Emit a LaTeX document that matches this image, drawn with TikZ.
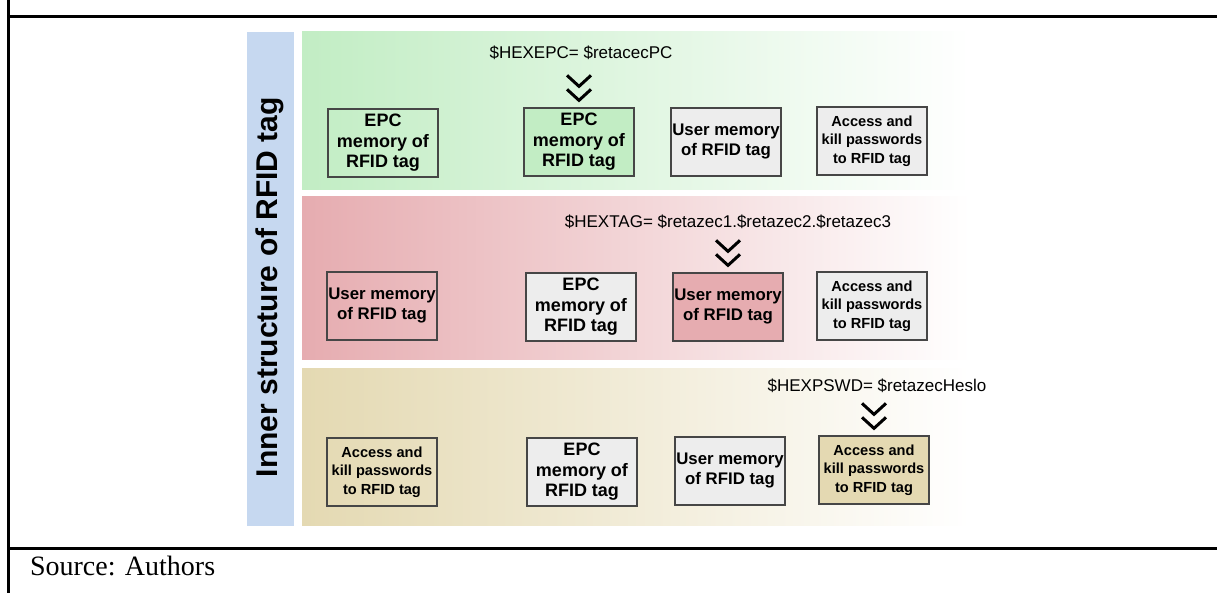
\documentclass[tikz,border=0pt]{standalone}
\usepackage{fontspec}
\setmainfont{Liberation Serif}
\setsansfont{Liberation Sans}
\usetikzlibrary{calc}

\definecolor{barblue}{RGB}{198,216,240}
\definecolor{epcgreen}{RGB}{194,237,196}
\definecolor{tagred}{RGB}{230,172,176}
\definecolor{pswdtan}{RGB}{228,217,178}
\definecolor{memgray}{RGB}{237,237,237}
\definecolor{boxline}{RGB}{70,70,70}

\tikzset{
  frame/.style={line width=1.5pt, black},
  mem/.style={draw=boxline, line width=0.65pt, minimum width=55pt, minimum height=34pt, inner sep=0pt, align=center},
  epcmem/.style={mem, font=\sffamily\bfseries\fontsize{9}{10.3}\selectfont},
  usermem/.style={mem, font=\sffamily\bfseries\fontsize{8.4}{10}\selectfont},
  pswdmem/.style={mem, font=\sffamily\bfseries\fontsize{7.3}{9.2}\selectfont},
  hexlabel/.style={font=\sffamily\fontsize{8.5}{10}\selectfont},
  chevron/.style={line width=1.5pt, black}
}

\begin{document}
\begin{tikzpicture}[x=0.5pt,y=-0.5pt]
\useasboundingbox (0,0) rectangle (1217,593);

% table frame
\draw[frame] (8.5,0) -- (8.5,593);
\draw[frame] (8.5,17) -- (1217,17);
\draw[frame] (8.5,548) -- (1217,548);
\node[anchor=base west, font=\fontsize{14}{17}\selectfont] (src) at (23,575) {Source: Authors};

% side bar and bands
\fill[barblue] (247,32) rectangle (294,526);
\node[rotate=90, font=\sffamily\bfseries\fontsize{15}{18}\selectfont] (title) at (270,287) {Inner structure of RFID tag};
\shade[left color=epcgreen, right color=white] (302,32) rectangle (970,190);
\shade[left color=tagred, right color=white] (302,197) rectangle (970,360);
\shade[left color=pswdtan, right color=white] (302,369) rectangle (970,526);

% row 1
\node[epcmem] (e1) at (383,143) {EPC\\memory of\\RFID tag};
\node[epcmem, fill=epcgreen] (e2) at (579,142) {EPC\\memory of\\RFID tag};
\node[usermem, fill=memgray] (e3) at (726,142) {User memory\\of RFID tag};
\node[pswdmem, fill=memgray] (e4) at (872,141) {Access and\\kill passwords\\to RFID tag};
\node[hexlabel] (hexepc) at (581,53) {\$HEXEPC= \$retacecPC};

% row 2
\node[usermem] (t1) at (382,306) {User memory\\of RFID tag};
\node[epcmem, fill=memgray] (t2) at (581,307) {EPC\\memory of\\RFID tag};
\node[usermem, fill=tagred] (t3) at (728,307) {User memory\\of RFID tag};
\node[pswdmem, fill=memgray] (t4) at (872,306) {Access and\\kill passwords\\to RFID tag};
\node[hexlabel] (hextag) at (728,222) {\$HEXTAG= \$retazec1.\$retazec2.\$retazec3};

% row 3
\node[pswdmem] (p1) at (382,472) {Access and\\kill passwords\\to RFID tag};
\node[epcmem, fill=memgray] (p2) at (582,472) {EPC\\memory of\\RFID tag};
\node[usermem, fill=memgray] (p3) at (730,471) {User memory\\of RFID tag};
\node[pswdmem, fill=pswdtan] (p4) at (874,470) {Access and\\kill passwords\\to RFID tag};
\node[hexlabel] (hexpswd) at (877,386) {\$HEXPSWD= \$retazecHeslo};

% chevrons
\foreach \b in {e2,t3,p4}
  \foreach \d in {7,21}
    \draw[chevron] ($(\b.north)+(-12,-\d-11)$) -- ++(12,11) -- ++(12,-11);

\end{tikzpicture}
\end{document}
